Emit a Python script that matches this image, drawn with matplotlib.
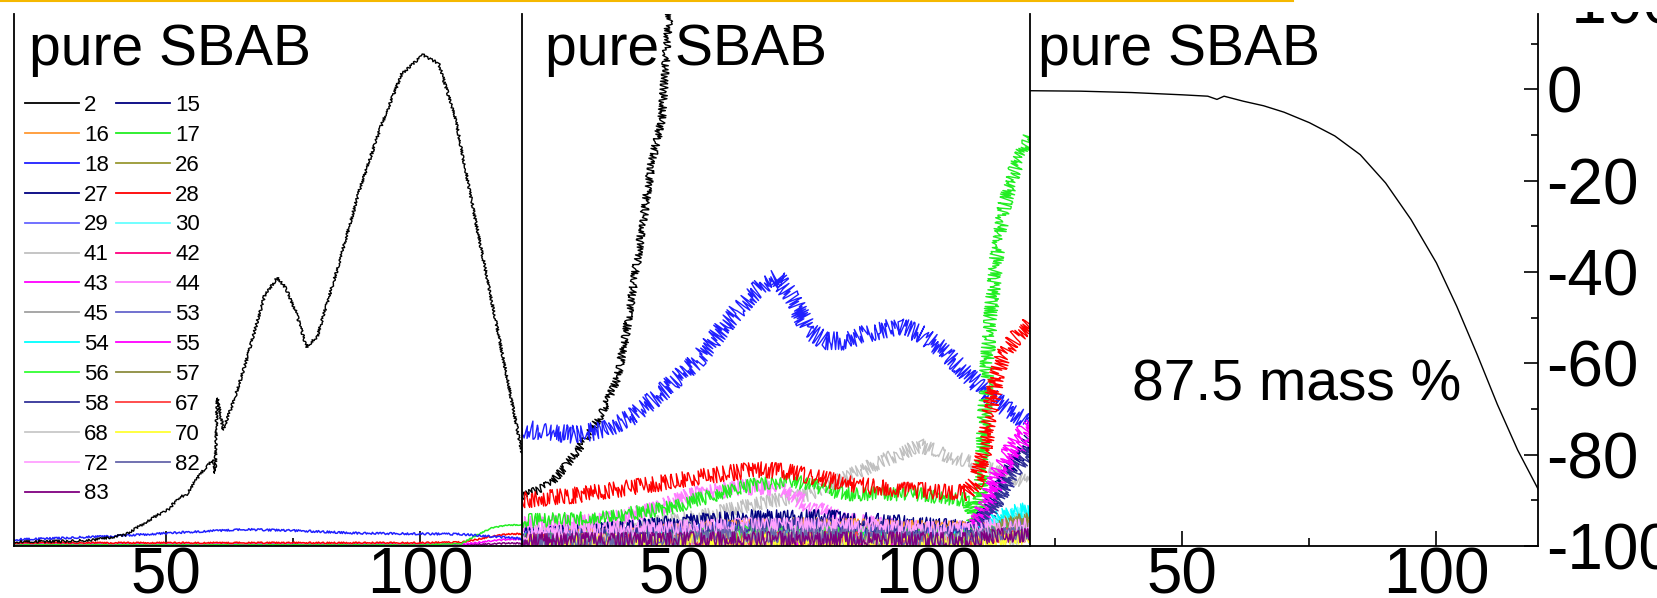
import matplotlib.pyplot as plt
from matplotlib.lines import Line2D
from matplotlib.ticker import MultipleLocator, NullLocator
from matplotlib.transforms import Bbox, TransformedBbox

plt.rcParams['font.family'] = ['Liberation Sans', 'DejaVu Sans']
plt.rcParams['axes.unicode_minus'] = False

# m/z channels recorded by the mass spectrometer
mz_labels = ['2', '15', '16', '17', '18', '26', '27', '28', '29', '30', '41', '42', '43', '44',
             '45', '53', '54', '55', '56', '57', '58', '67', '68', '70', '72', '82', '83']
mz_colors = ['#000000', '#000080', '#ff9933', '#22ee22', '#2020ff', '#999933', '#000080',
             '#ff0000', '#6666ff', '#66ffff', '#c0c0c0', '#ff0080', '#ff00ff', '#ff80ff',
             '#a0a0a0', '#6666cc', '#00ffff', '#ff00ff', '#33ff33', '#8c8c3f', '#333399',
             '#ff4040', '#c8c8c8', '#ffff33', '#ffa0ff', '#6666aa', '#800080']

# left panel: full scale signals (% of panel height) vs temperature
p1_black_x = [20, 30, 35, 41.9, 47.5, 50.3, 52.7, 53.8, 56.6, 59.2, 59.6, 60.0, 60.4, 61.2, 63.5,
              65.8, 69.3, 71.8, 73.5, 75.5, 77.6, 79.7, 83.9, 88, 92.2, 96.3, 100.5, 103.6,
              106.8, 110.9, 115.1, 120]
p1_black_y = [0.8, 0.9, 1.05, 2.1, 5.4, 6.8, 9.3, 9.5, 13.5, 16.2, 13.7, 27.8, 26, 21.8, 28,
              35, 47, 50.4, 48.5, 44, 37.4, 39.4, 52.9, 66.9, 78.8, 88.7, 92.3, 90.7,
              80.8, 60.9, 41, 17.5]
p1_x = [20, 30, 40, 50, 60, 66, 75, 88, 100, 108, 111, 114, 117, 120]
p1_blue = [1.2, 1.5, 1.9, 2.4, 2.9, 3.1, 2.9, 2.4, 2.3, 2.2, 2.0, 1.8, 1.6, 1.4]
p1_red = [0.6, 0.6, 0.6, 0.6, 0.6, 0.6, 0.6, 0.6, 0.6, 0.7, 1.2, 1.8, 2.2, 2.3]
p1_green = [0.2, 0.2, 0.2, 0.2, 0.2, 0.2, 0.2, 0.2, 0.2, 0.4, 2.0, 3.4, 3.9, 4.0]
p1_magenta = [0.3, 0.3, 0.3, 0.3, 0.3, 0.3, 0.3, 0.3, 0.3, 0.3, 0.6, 1.0, 1.2, 1.3]
p1_purple = [0.2, 0.2, 0.2, 0.2, 0.2, 0.2, 0.2, 0.2, 0.2, 0.2, 0.3, 0.4, 0.5, 0.5]

# middle panel: magnified signals (% of panel height)
p2_black_x = [20, 23, 25.8, 29, 32.6, 36, 38.7, 40.5, 42.1, 44, 45.5, 47.5, 48.4, 49.2]
p2_black_y = [9.2, 10.5, 11.8, 15.5, 20.2, 25.4, 31.2, 40, 50, 62, 72, 80, 92.7, 102]
p2_blue_x = [20, 25, 30, 36, 42, 48.3, 54.6, 60.8, 65, 68, 70.2, 73.3, 76.4, 79.6, 84, 88,
             94.2, 98.6, 102.7, 106.9, 111, 115, 120]
p2_blue_y = [22, 21.5, 21, 21.8, 24.5, 29.5, 35, 42.5, 47, 49.5, 50.5, 46.5, 40.5, 38.6, 38.5,
             40, 41.4, 39.8, 37, 33.1, 29.1, 26.1, 23]
p2_red_x = [20, 30, 40, 50, 56, 66, 72, 77, 83.5, 90, 97, 104, 107.5, 109.5, 111, 112, 113.3,
            114.5, 117, 120]
p2_red_y = [8.6, 9.5, 10.8, 12.2, 13.1, 14.4, 14.0, 13.1, 11.8, 11, 10.5, 10.2, 10, 12, 18,
            24.7, 31.2, 35.5, 39, 42]
p2_green_x = [20, 36, 49.5, 63, 73.3, 83.5, 97, 107.9, 109.2, 110, 110.8, 111.6, 112.5, 113.5,
              115, 117, 118.5, 120]
p2_green_y = [4.7, 5.3, 7.3, 11.1, 12.4, 9.8, 9.8, 8.6, 4, 6, 20, 35, 46, 55, 64, 71, 74, 77]
p2_grey_x = [20, 40, 55, 63.1, 76.7, 90.2, 98.4, 103.8, 110.6, 120]
p2_grey_y = [2.5, 3.5, 5.5, 7.3, 9.8, 15.7, 18.9, 17, 15, 11.8]
p2_pink_x = [20, 36, 46.2, 53, 63.1, 69.9, 76.7, 83.5, 97, 120]
p2_pink_y = [4, 4.7, 6.8, 9.5, 11.0, 11.0, 7.5, 4.7, 3.4, 3.2]

# the remaining channels stay near the baseline, some rise above 108
p2_low_x = [20, 35, 50, 65, 80, 95, 108, 111, 114, 117, 120]
p2_low = {
    '15': [2.0, 3.0, 4.5, 5.5, 5.5, 4.5, 3.5, 4.0, 4.5, 4.5, 4.5],
    '16': [1.5, 2.0, 3.0, 4.0, 4.0, 3.5, 3.5, 4.0, 4.0, 4.0, 4.0],
    '26': [1.0, 1.0, 1.5, 1.5, 1.5, 1.5, 1.5, 2.5, 4.0, 5.0, 5.5],
    '27': [1.5, 1.5, 2.0, 2.5, 2.5, 2.0, 2.0, 6.0, 11.0, 16.0, 20.0],
    '29': [1.5, 2.0, 2.5, 3.5, 3.5, 2.5, 2.5, 3.0, 3.5, 3.5, 3.5],
    '30': [1.0, 1.0, 1.5, 1.5, 1.5, 1.5, 1.5, 3.0, 5.0, 6.0, 6.5],
    '42': [1.0, 1.0, 1.5, 1.5, 1.5, 1.0, 1.0, 1.5, 2.0, 2.0, 2.0],
    '43': [1.0, 1.0, 1.5, 1.5, 1.5, 1.5, 1.5, 8.0, 15.0, 20.0, 23.0],
    '45': [1.0, 1.5, 2.0, 2.5, 2.5, 2.0, 2.0, 2.5, 3.0, 3.0, 3.0],
    '53': [1.5, 1.5, 2.0, 3.0, 3.0, 2.0, 2.0, 2.5, 3.0, 3.0, 3.0],
    '54': [1.0, 1.0, 1.5, 1.5, 1.5, 1.5, 1.5, 3.5, 5.5, 6.5, 7.0],
    '55': [1.0, 1.0, 1.0, 1.0, 1.0, 1.0, 1.0, 6.0, 12.0, 17.0, 21.0],
    '56': [1.0, 1.5, 2.0, 2.5, 2.5, 2.0, 2.0, 2.5, 3.0, 3.0, 3.0],
    '57': [1.0, 1.0, 1.0, 1.0, 1.0, 1.0, 1.0, 2.0, 3.5, 4.5, 5.0],
    '58': [1.5, 2.0, 3.0, 4.0, 4.0, 3.0, 2.5, 5.0, 9.0, 14.0, 18.0],
    '67': [1.0, 1.0, 1.0, 1.5, 1.5, 1.0, 1.0, 1.5, 2.0, 2.0, 2.0],
    '68': [1.0, 1.0, 1.0, 1.5, 1.5, 1.0, 1.0, 1.5, 1.5, 1.5, 1.5],
    '70': [1.0, 1.0, 1.0, 1.0, 1.0, 1.0, 1.0, 1.0, 1.5, 1.5, 1.5],
    '72': [2.5, 3.0, 3.5, 4.0, 4.0, 3.5, 3.0, 3.5, 4.0, 4.0, 4.0],
    '82': [1.0, 1.0, 1.5, 2.0, 2.0, 1.5, 1.5, 2.0, 2.5, 2.5, 2.5],
    '83': [1.2, 1.2, 1.3, 1.4, 1.4, 1.3, 1.2, 1.5, 2.0, 2.0, 2.0],
}

# right panel: thermogravimetric mass change (%)
tg_x = [20, 30, 40, 50, 55, 56.8, 58.2, 62, 66, 70, 75, 80, 85, 90, 95, 100, 104, 108, 112,
        116, 120]
tg_y = [-0.3, -0.4, -0.7, -1.2, -1.5, -2.2, -1.5, -2.6, -3.6, -5.0, -7.3, -10.2, -14.3, -20.5,
        -28.5, -38, -47.5, -58, -69, -79, -87.5]

color_of = dict(zip(mz_labels, mz_colors))


def noisy(line, amp, length=1.0, rand=6.0):
    # jitter the rendered trace to look like detector noise
    line.set_sketch_params(amp, length, rand)
    return line


fig = plt.figure(figsize=(16.58, 5.98), dpi=100)
axes = [fig.add_axes([(14 + 508 * i) / 1658, 52 / 598, 508 / 1658, 532 / 598]) for i in range(3)]
ax1, ax2, ax3 = axes

for ax, tx in zip(axes, [0.03, 0.045, 0.016]):
    ax.set_xlim(20, 120)
    for side in ('top', 'right'):
        ax.spines[side].set_visible(False)
    for side in ('left', 'bottom'):
        ax.spines[side].set_linewidth(1.3)
    ax.xaxis.set_major_locator(MultipleLocator(50))
    ax.xaxis.set_minor_locator(MultipleLocator(25))
    ax.tick_params(axis='x', which='major', direction='in', length=11, width=1.2,
                   labelsize=46, pad=0)
    ax.tick_params(axis='x', which='minor', direction='in', length=6, width=1.2)
    ax.yaxis.set_major_locator(NullLocator())
    ax.text(tx, 0.904, 'pure SBAB', transform=ax.transAxes,
            fontsize=41, va='baseline', ha='left')

# --- left panel
ax1.set_ylim(0, 100)
for vals, lab, amp in [(p1_purple, '83', 0.7), (p1_magenta, '43', 0.7), (p1_red, '28', 0.7),
                       (p1_green, '17', 0.5), (p1_blue, '18', 1.0)]:
    noisy(ax1.plot(p1_x, vals, color=color_of[lab], lw=1.1)[0], amp, 1.5, 4.0)
noisy(ax1.plot(p1_black_x, p1_black_y, color='black', lw=1.0)[0], 1.3, 1.5, 4.0)

handles = [Line2D([], [], color=c, lw=1.3) for c in mz_colors]
# order the entries so that two columns read row by row
order = list(range(0, 27, 2)) + list(range(1, 27, 2))
ax1.legend([handles[i] for i in order], [mz_labels[i] for i in order], ncol=2,
           loc='upper left', bbox_to_anchor=(0.0217, 0.848), frameon=False, fontsize=16,
           handlelength=2.43, handletextpad=0.22, columnspacing=0.33, labelspacing=0.4,
           borderpad=0, borderaxespad=0)

# --- middle panel
ax2.set_ylim(0, 100)
noisy(ax2.plot(p2_black_x, p2_black_y, color='black', lw=1.0)[0], 4)
noisy(ax2.plot(p2_blue_x, p2_blue_y, color=color_of['18'], lw=1.0)[0], 9, 1.1)
noisy(ax2.plot(p2_grey_x, p2_grey_y, color=color_of['41'], lw=1.0)[0], 7, 1.2)
noisy(ax2.plot(p2_pink_x, p2_pink_y, color=color_of['44'], lw=1.1)[0], 8, 1.3)
noisy(ax2.plot(p2_green_x, p2_green_y, color=color_of['17'], lw=1.0)[0], 7, 0.9)
noisy(ax2.plot(p2_red_x, p2_red_y, color=color_of['28'], lw=1.0)[0], 8, 1.4)
for k, lab in enumerate(p2_low):
    noisy(ax2.plot(p2_low_x, p2_low[lab], color=color_of[lab], lw=1.0)[0],
          7, 0.8 + 0.05 * k)

# --- right panel
ax3.set_ylim(-100, 16.5)
ax3.spines['right'].set_visible(True)
ax3.spines['right'].set_linewidth(1.3)
ax3.yaxis.tick_right()
ax3.yaxis.set_major_locator(MultipleLocator(20))
ax3.yaxis.set_minor_locator(MultipleLocator(10))
ax3.tick_params(axis='y', which='major', direction='in', length=10, width=1.2,
                labelsize=46, pad=6)
ax3.tick_params(axis='y', which='minor', direction='in', length=5, width=1.2)
ax3.plot(tg_x, tg_y, color='black', lw=1.0)
ax3.text(0.2, 0.274, '87.5 mass %', transform=ax3.transAxes, fontsize=41,
         va='baseline', ha='left')

# tick label of the panel above, cut at the top of the page
top_lab = fig.text(1550 / 1658, 574 / 598, '-100', fontsize=46, va='baseline', ha='left')
top_lab.set_clip_box(TransformedBbox(Bbox([[0.9, 0], [1, 586 / 598]]), fig.transFigure))
fig.add_artist(Line2D([0, 0.78], [0.999, 0.999], transform=fig.transFigure,
                      color='#f5b800', lw=1.5))

fig.savefig('out.png', dpi=100)
